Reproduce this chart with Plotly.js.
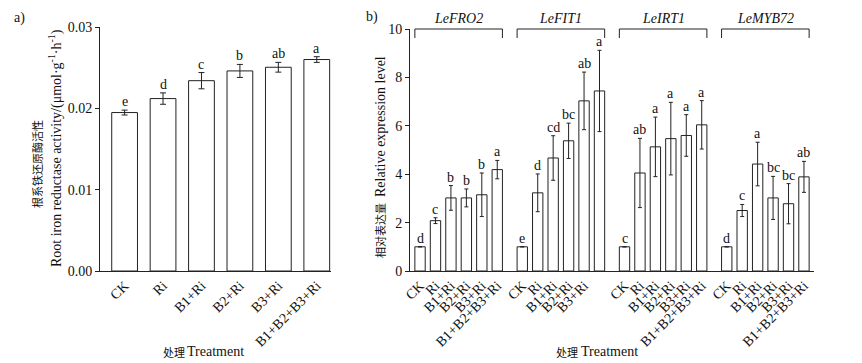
<!DOCTYPE html>
<html><head><meta charset="utf-8">
<script src="https://cdn.plot.ly/plotly-3.0.1.min.js"></script>
<style>html,body{margin:0;padding:0;background:#fff}#chart{width:862px;height:363px}</style>
</head><body><div id="chart"></div>
<script>
// ---- Panel a data ----
const treatments = ['CK', 'Ri', 'B1+Ri', 'B2+Ri', 'B3+Ri', 'B1+B2+B3+Ri'];
const activity = [0.01948, 0.0212, 0.0234, 0.0246, 0.02505, 0.0260];
const activityErr = [0.0003, 0.0007, 0.001, 0.0008, 0.0006, 0.00035];
const activityLetters = ['e', 'd', 'c', 'b', 'ab', 'a'];

// ---- Panel b data ----
const genes = ['LeFRO2', 'LeFIT1', 'LeIRT1', 'LeMYB72'];
const fro2 = [1.0, 2.08, 3.02, 3.02, 3.15, 4.19];
const fro2Err = [0, 0.12, 0.51, 0.37, 0.9, 0.38];
const fro2Letters = ['d', 'c', 'b', 'b', 'b', 'a'];
const fit1 = [1.0, 3.23, 4.67, 5.38, 7.03, 7.44];
const fit1Err = [0, 0.78, 0.92, 0.73, 1.19, 1.68];
const fit1Letters = ['e', 'd', 'cd', 'bc', 'ab', 'a'];
const irt1 = [1.0, 4.05, 5.13, 5.47, 5.6, 6.04];
const irt1Err = [0, 1.43, 1.23, 1.5, 0.86, 1.0];
const irt1Letters = ['c', 'ab', 'a', 'a', 'a', 'a'];
const myb72 = [1.0, 2.5, 4.42, 3.02, 2.78, 3.89];
const myb72Err = [0, 0.25, 0.9, 0.89, 0.83, 0.64];
const myb72Letters = ['d', 'c', 'a', 'bc', 'bc', 'ab'];
// tick labels of panel b (the last label of LeFIT1 is not shown in the original)
const tickLabelsB = [
  treatments,
  ['CK', 'Ri', 'B1+Ri', 'B2+Ri', 'B3+Ri', ' '],
  treatments,
  treatments
];

const geneValues = [fro2, fit1, irt1, myb72];
const geneErrs = [fro2Err, fit1Err, irt1Err, myb72Err];
const geneLetters = [fro2Letters, fit1Letters, irt1Letters, myb72Letters];

// ---- layout constants ----
const FONT = 'Liberation Serif, Times New Roman, serif';
const CJK = 'Noto Sans CJK SC, sans-serif';
const INK = '#111';
const STRIDE = 6.62;   // group spacing in slot units (panel b)
const BW = 0.67;       // bar width
const W = 862, H = 363, MT = 27, MB = 92;
const plotH = H - MT - MB;
const px2paperY = py => (H - MB - py) / plotH;

const traces = [];
const annotations = [];
const shapes = [];

// Panel a
traces.push({
  type: 'bar', x: treatments.map((_, i) => i), y: activity,
  width: BW, xaxis: 'x', yaxis: 'y',
  marker: {color: '#fff', line: {color: '#222', width: 1}},
  error_y: {type: 'data', array: activityErr, visible: true, color: '#222', thickness: 1, width: 3},
  hoverinfo: 'skip', showlegend: false
});
activity.forEach((v, i) => annotations.push({
  xref: 'x', yref: 'y', x: i, y: v + activityErr[i], text: activityLetters[i],
  showarrow: false, yanchor: 'bottom', yshift: -1, font: {family: FONT, size: 14, color: INK}
}));

// Panel b
const tickvalsB = [], ticktextB = [];
genes.forEach((g, gi) => {
  const xs = geneValues[gi].map((_, i) => gi * STRIDE + i);
  traces.push({
    type: 'bar', x: xs, y: geneValues[gi], width: BW, xaxis: 'x2', yaxis: 'y2',
    marker: {color: '#fff', line: {color: '#222', width: 1}},
    error_y: {type: 'data', array: geneErrs[gi], visible: true, color: '#222', thickness: 1, width: 2},
    hoverinfo: 'skip', showlegend: false, name: g
  });
  xs.forEach((x, i) => {
    tickvalsB.push(x); ticktextB.push(tickLabelsB[gi][i]);
    annotations.push({
      xref: 'x2', yref: 'y2', x: x, y: geneValues[gi][i] + geneErrs[gi][i], text: geneLetters[gi][i],
      showarrow: false, yanchor: 'bottom', yshift: -1, font: {family: FONT, size: 14, color: INK}
    });
  });
  const x0 = xs[0] - BW / 2, x1 = xs[xs.length - 1] + BW / 2;
  const yTop = px2paperY(29), yBot = px2paperY(38);
  shapes.push({type: 'path', xref: 'x2', yref: 'paper',
    path: `M ${x0},${yBot} L ${x0},${yTop} L ${x1},${yTop} L ${x1},${yBot}`,
    line: {color: '#222', width: 1}});
  annotations.push({
    xref: 'x2', yref: 'paper', x: (x0 + x1) / 2, y: px2paperY(19), text: '<i>' + g + '</i>',
    showarrow: false, yanchor: 'middle', font: {family: FONT, size: 14, color: INK}
  });
});

// Titles and panel labels
const txt = (x, y, text, extra, font) => Object.assign({
  xref: 'paper', yref: 'paper', x: x / W, y: px2paperY(y), text: text, showarrow: false,
  xanchor: 'center', yanchor: 'middle', font: font || {family: FONT, size: 14, color: INK}
}, extra || {});
const cjkFont = {family: CJK, size: 11, color: INK};
annotations.push(txt(37, 164, '根系铁还原酶活性', {textangle: -90}, cjkFont));
annotations.push(txt(55, 148, 'Root iron reductase activity/(μmol·g<sup>-1</sup>·h<sup>-1</sup>)', {textangle: -90}));
annotations.push(txt(380, 231, '相对表达量', {textangle: -90}, cjkFont));
annotations.push(txt(380, 127, 'Relative expression level', {textangle: -90}));
annotations.push(txt(174, 352, '处理', {}, cjkFont));
annotations.push(txt(215, 352, 'Treatment'));
annotations.push(txt(567, 352, '处理', {}, cjkFont));
annotations.push(txt(609, 352, 'Treatment'));
annotations.push(txt(19, 18, 'a)'));
annotations.push(txt(372, 17, 'b)'));

const axisCommon = {
  showgrid: false, zeroline: false, showline: true, linecolor: '#222', linewidth: 1,
  tickfont: {family: FONT, size: 14, color: INK}, automargin: false
};

const layout = {
  width: W, height: H, margin: {l: 0, r: 0, t: MT, b: MB},
  paper_bgcolor: '#fff', plot_bgcolor: '#fff', bargap: 0,
  showlegend: false,
  xaxis: Object.assign({}, axisCommon, {
    domain: [100 / W, 331 / W], range: [-0.64, 5.37],
    tickvals: treatments.map((_, i) => i), ticktext: treatments,
    tickangle: -45, ticks: '', anchor: 'y'
  }),
  yaxis: Object.assign({}, axisCommon, {
    domain: [0, 1], range: [0, 0.03], tickvals: [0, 0.01, 0.02, 0.03],
    ticktext: ['0.00', '0.01', '0.02', '0.03'],
    ticks: 'outside', ticklen: 4, tickcolor: '#222', anchor: 'x'
  }),
  xaxis2: Object.assign({}, axisCommon, {
    domain: [410 / W, 814 / W], range: [-0.65, 3 * STRIDE + 5 + 0.65],
    tickvals: tickvalsB, ticktext: ticktextB,
    tickangle: -45, ticks: '', anchor: 'y2'
  }),
  yaxis2: Object.assign({}, axisCommon, {
    domain: [0, px2paperY(29)], range: [0, 10], tickvals: [0, 2, 4, 6, 8, 10],
    ticks: 'outside', ticklen: 4, tickcolor: '#222', anchor: 'x2'
  }),
  annotations: annotations,
  shapes: shapes
};

Plotly.newPlot('chart', traces, layout, {displayModeBar: false, staticPlot: true});
</script>
</body></html>
